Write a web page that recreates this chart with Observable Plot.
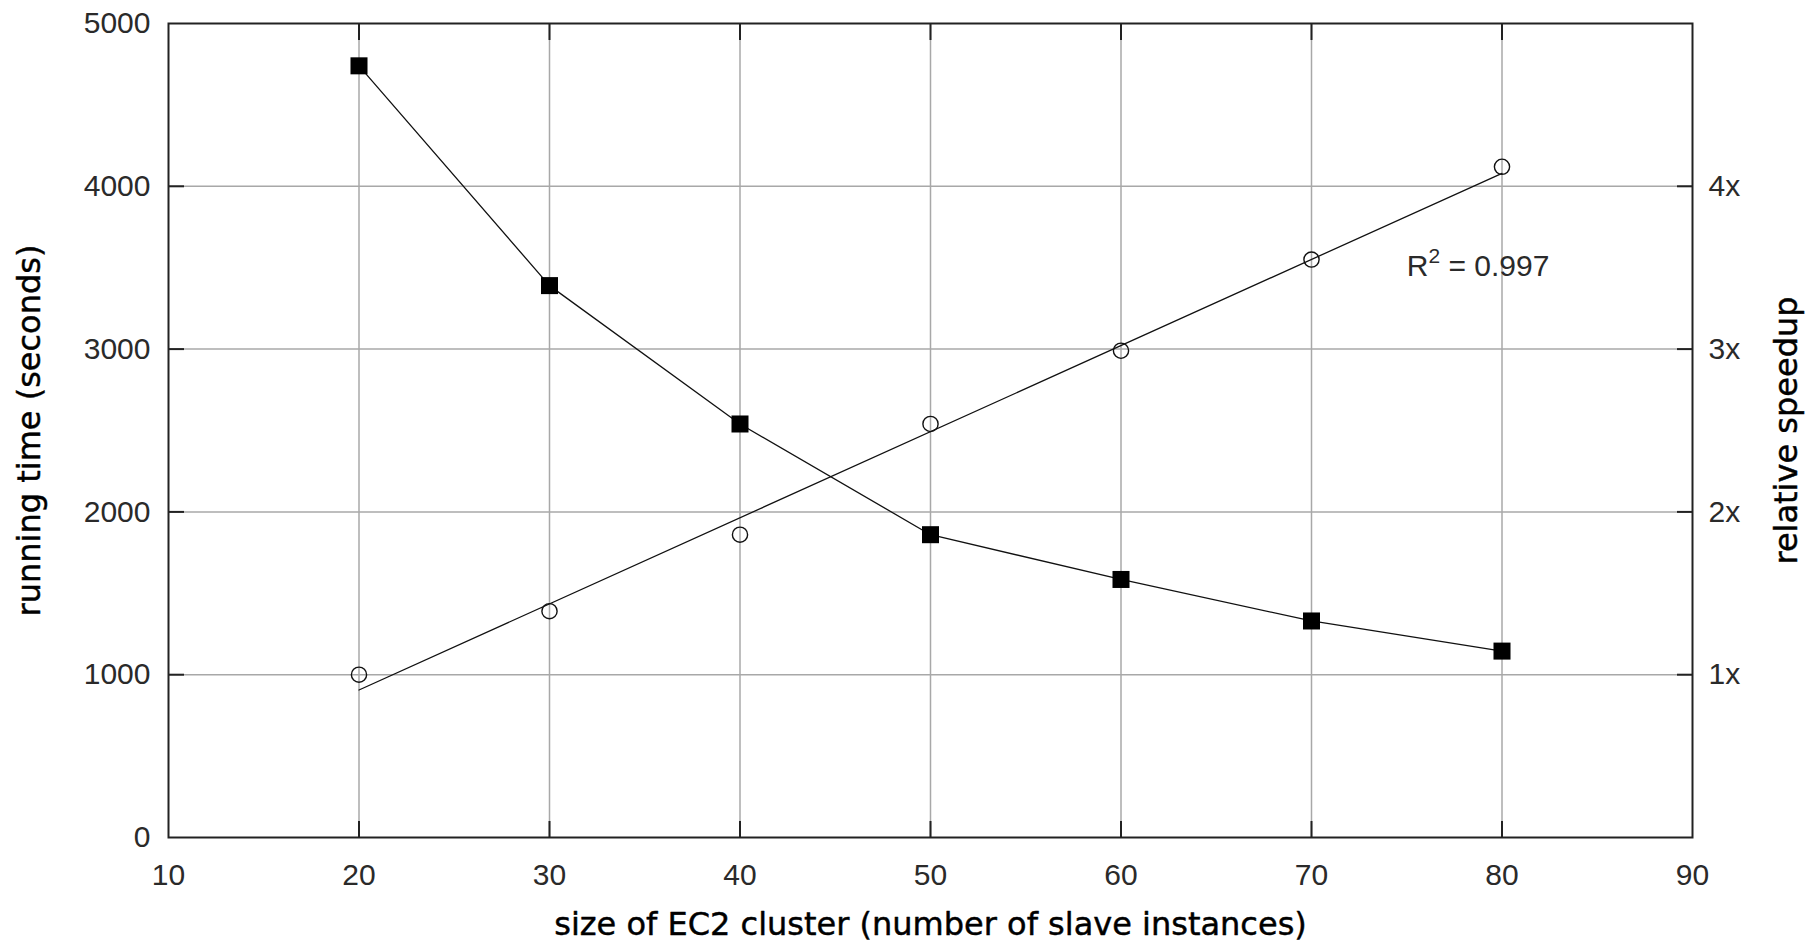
<!DOCTYPE html>
<html>
<head>
<meta charset="utf-8">
<script src="https://cdn.jsdelivr.net/npm/d3@7"></script>
<script src="https://cdn.jsdelivr.net/npm/@observablehq/plot@0.6"></script>
<style>
  html, body { margin: 0; padding: 0; background: #fff; }
  #chart svg { display: block; }
</style>
</head>
<body>
<div id="chart"></div>
<script>
// ---- data ----
const clusterSize = [20, 30, 40, 50, 60, 70, 80];
const runningTime = [4740, 3390, 2540, 1860, 1585, 1330, 1145];   // seconds (left axis)
const speedup     = [1.00, 1.39, 1.86, 2.54, 2.99, 3.55, 4.12];    // relative speedup (right axis)

const xTickValues   = [10, 20, 30, 40, 50, 60, 70, 80, 90];
const xInnerTicks   = [20, 30, 40, 50, 60, 70, 80];
const yTickValues   = [0, 1000, 2000, 3000, 4000, 5000];
const yInnerTicks   = [1000, 2000, 3000, 4000];
const speedupTicks  = [1, 2, 3, 4];
const speedupToY    = 1000; // 1x on the right axis sits at 1000 s on the left axis

const xTitle = "size of EC2 cluster (number of slave instances)";
const yTitle = "running time (seconds)";
const y2Title = "relative speedup";
const annotation = [{x: 75, y: 3450, label: "R2 = 0.997"}];

const data = clusterSize.map((c, i) => ({size: c, time: runningTime[i], speedup: speedup[i]}));

const tickColor = "#222";
const font = "'Liberation Sans', Arial, sans-serif";
const titleFont = "'DejaVu Sans', Verdana, sans-serif";
const titleStyle = {fontSize: 32, fontFamily: titleFont, fill: "#000", stroke: "#000", strokeWidth: 0.45, lineAnchor: "bottom", textAnchor: "middle"};

const chart = Plot.plot({
  width: 1816,
  height: 947,
  marginLeft: 168,
  marginRight: 124,
  marginTop: 23,
  marginBottom: 110,
  style: {fontFamily: font, fontSize: "30px", background: "#fff", color: "#222"},
  x: {domain: [10, 90], label: null},
  y: {domain: [0, 5000], label: null},
  marks: [
    Plot.gridX(xInnerTicks, {stroke: "#a8a8a8", strokeOpacity: 1, strokeWidth: 1.5}),
    Plot.gridY(yInnerTicks, {stroke: "#a8a8a8", strokeOpacity: 1, strokeWidth: 1.5}),
    // inward tick marks
    Plot.axisX(xInnerTicks, {anchor: "bottom", tickSize: 16, dy: -16, text: null, stroke: tickColor, strokeWidth: 2, label: null}),
    Plot.axisX(xInnerTicks, {anchor: "top", tickSize: 16, dy: 16, text: null, stroke: tickColor, strokeWidth: 2, label: null}),
    Plot.axisY(yInnerTicks, {anchor: "left", tickSize: 16, dx: 16, text: null, stroke: tickColor, strokeWidth: 2, label: null}),
    Plot.axisY(yInnerTicks, {anchor: "right", tickSize: 16, dx: -16, text: null, stroke: tickColor, strokeWidth: 2, label: null}),
    // tick labels
    Plot.axisX(xTickValues, {anchor: "bottom", tickSize: 0, tickPadding: 26, tickFormat: d => String(d), fill: "#2a2a2a", label: null}),
    Plot.axisY(yTickValues, {anchor: "left", tickSize: 0, tickPadding: 18, tickFormat: d => String(d), fill: "#2a2a2a", label: null}),
    Plot.axisY(speedupTicks.map(s => s * speedupToY), {anchor: "right", tickSize: 0, tickPadding: 16, tickFormat: d => (d / speedupToY) + "x", fill: "#2a2a2a", label: null}),
    Plot.frame({stroke: tickColor, strokeWidth: 2}),
    // regression line of the speedup
    Plot.linearRegressionY(data, {x: "size", y: d => d.speedup * speedupToY, ci: 0, stroke: "#111", strokeWidth: 1.3}),
    Plot.dot(data, {x: "size", y: d => d.speedup * speedupToY, r: 7.6, stroke: "#111", strokeWidth: 1.4, fill: "none"}),
    // running time
    Plot.line(data, {x: "size", y: "time", stroke: "#111", strokeWidth: 1.3}),
    Plot.dot(data, {x: "size", y: "time", symbol: "square", r: 9.6, fill: "#000", stroke: "none"}),
    // annotation
    Plot.text(annotation, {x: "x", y: "y", text: "label", textAnchor: "start", lineAnchor: "bottom", fontSize: 30, fill: "#2a2a2a", className: "r2label"}),
    // axis titles
    Plot.text([xTitle], {...titleStyle, frameAnchor: "bottom", dy: 97}),
    Plot.text([yTitle], {...titleStyle, frameAnchor: "left", dx: -129, rotate: -90}),
    Plot.text([y2Title], {...titleStyle, frameAnchor: "right", dx: 104, rotate: -90})
  ]
});

document.getElementById("chart").appendChild(chart);

// render the "2" of R2 as a superscript
d3.select(chart).selectAll("g.r2label text").each(function () {
  const t = d3.select(this);
  const txt = t.text();
  if (!txt.startsWith("R2")) return;
  t.text(null);
  t.append("tspan").text("R");
  t.append("tspan").attr("dy", "-0.62em").attr("font-size", "21px").text("2");
  t.append("tspan").attr("dy", "0.43em").text("\u00a0= 0.997");
});
</script>
</body>
</html>
